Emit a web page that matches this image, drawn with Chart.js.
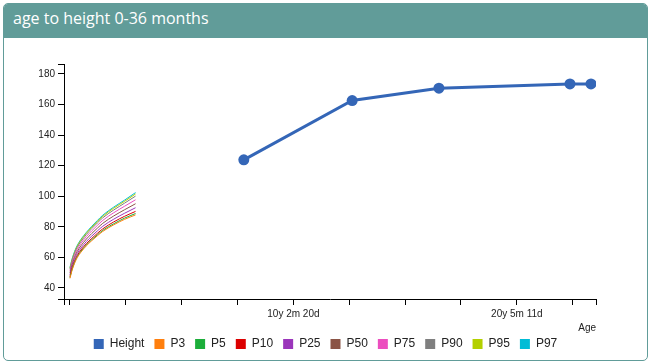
<!DOCTYPE html>
<html>
<head>
<meta charset="utf-8">
<title>age to height 0-36 months</title>
<script src="https://cdn.jsdelivr.net/npm/chart.js@4.4.1/dist/chart.umd.min.js"></script>
<style>
  body { margin: 0; background: #fff; }
  .panel {
    position: absolute; left: 3px; top: 3px; width: 643px; height: 356px;
    border: 1px solid #619c99; border-radius: 5px; overflow: hidden; background: #fff;
  }
  .panel-head {
    background: #619c99; color: #fff; height: 34px; line-height: 34px;
    padding-left: 9px; padding-top: 0; box-sizing: border-box;
    font: 16px "Open Sans", sans-serif;
  }
  .panel-head span { position: relative; top: 3px; }
  #chartWrap { position: absolute; left: 0; top: 0; width: 651px; height: 364px; }
</style>
</head>
<body>
<div class="panel"><div class="panel-head"><span>age to height 0-36 months</span></div></div>
<div id="chartWrap"><canvas id="heightChart"></canvas></div>
<script>
// ===== DATA =====
// child's measurements (age in days, height in cm)
const heightAgeDays = [2905, 4716, 6166, 8356, 8707];
const heightValues = [123.8, 162.6, 170.7, 173.5, 173.5];

// percentile curves 0-36 months
const percentileMonths = [0, 1, 2, 3, 4, 6, 9, 12, 15, 18, 24, 30, 36];
const p3  = [46.3, 51.0, 54.6, 57.5, 59.9, 63.4, 67.6, 71.0, 74.1, 77.0, 81.3, 84.9, 87.8];
const p5  = [46.8, 51.5, 55.1, 58.0, 60.4, 64.0, 68.1, 71.6, 74.7, 77.7, 82.0, 85.7, 88.7];
const p10 = [47.5, 52.2, 55.8, 58.7, 61.2, 64.8, 69.0, 72.5, 75.7, 78.7, 83.2, 86.9, 90.1];
const p25 = [48.6, 53.4, 57.0, 60.0, 62.5, 66.1, 70.4, 74.0, 77.3, 80.4, 85.0, 88.9, 92.5];
const p50 = [49.9, 54.7, 58.4, 61.4, 63.9, 67.6, 72.0, 75.7, 79.1, 82.3, 87.1, 91.2, 95.1];
const p75 = [51.2, 56.0, 59.8, 62.8, 65.3, 69.1, 73.6, 77.4, 80.9, 84.2, 89.2, 93.5, 97.7];
const p90 = [52.3, 57.2, 61.0, 64.1, 66.6, 70.4, 75.0, 78.9, 82.5, 85.9, 91.0, 95.5, 100.1];
const p95 = [53.0, 57.9, 61.7, 64.8, 67.4, 71.3, 75.9, 79.8, 83.5, 86.9, 92.2, 96.7, 101.5];
const p97 = [53.4, 58.4, 62.2, 65.3, 67.9, 71.8, 76.4, 80.4, 84.1, 87.6, 92.9, 97.5, 102.4];

const percentileNames = ["P3", "P5", "P10", "P25", "P50", "P75", "P90", "P95", "P97"];
const percentileSeries = [p3, p5, p10, p25, p50, p75, p90, p95, p97];
const percentileColors = ["#ff7f0e", "#1cae3a", "#dc0000", "#9b36bb", "#8b5446", "#ec4ebf", "#7f7f7f", "#b3d000", "#00bcd6"];

// axis ticks
const xTickDays = [0, 933.5, 1867, 2800.5, 3734, 4667.5, 5601, 6534.5, 7468, 8401.5];
const xTickLabels = ["", "", "", "", "10y 2m 20d", "", "", "", "20y 5m 11d", ""];
const yTicks = [40, 60, 80, 100, 120, 140, 160, 180];
const xRange = [-100, 8791];
const yRange = [32.8, 186.5];

// ===== BUILD DATASETS =====
const DAYS_PER_MONTH = 30.4375;

const datasets = [{
  label: "Height",
  data: heightAgeDays.map((d, i) => ({ x: d, y: heightValues[i] })),
  borderColor: "#3466b7",
  backgroundColor: "#3466b7",
  borderWidth: 3,
  pointRadius: 5.5,
  pointBorderWidth: 0,
  pointBackgroundColor: "#3466b7"
}];

percentileSeries.forEach((vals, i) => {
  datasets.push({
    label: percentileNames[i],
    data: percentileMonths.map((m, j) => ({ x: m * DAYS_PER_MONTH, y: vals[j] })),
    borderColor: percentileColors[i],
    backgroundColor: percentileColors[i],
    borderWidth: 1,
    pointRadius: 0,
    cubicInterpolationMode: "monotone"
  });
});

// axis style shared by both scales (d3-like, with outer ticks)
const axisFont = { family: "'Liberation Sans', Arial, sans-serif", size: 10 };
function axisGrid() {
  return { display: true, drawOnChartArea: false, drawTicks: true, tickLength: 6, color: "#000", lineWidth: 1 };
}

// keep the legend centred on the whole panel, not on the padded box
const centerLegend = {
  id: "centerLegend",
  afterLayout: chart => {
    chart.legend.left = 55;
    chart.legend.right = chart.width - 55;
  }
};

new Chart(document.getElementById("heightChart"), {
  type: "line",
  data: { datasets },
  plugins: [centerLegend],
  options: {
    responsive: true,
    maintainAspectRatio: false,
    animation: false,
    layout: { padding: { left: 24, right: 55, top: 64, bottom: 4 } },
    plugins: {
      tooltip: { enabled: false },
      legend: {
        position: "bottom",
        labels: {
          boxWidth: 10,
          boxHeight: 10,
          padding: 10,
          color: "#222",
          font: { family: "'Liberation Sans', Arial, sans-serif", size: 12 },
          generateLabels: chart =>
            Chart.defaults.plugins.legend.labels.generateLabels(chart).map(l => ({ ...l, lineWidth: 0 }))
        }
      }
    },
    scales: {
      x: {
        type: "linear",
        min: xRange[0],
        max: xRange[1],
        grid: axisGrid(),
        border: { display: true, color: "#000", width: 1 },
        afterBuildTicks: s => {
          s.ticks = [xRange[0], ...xTickDays, xRange[1]].map(v => ({ value: v }));
        },
        afterFit: s => { s.height = 29; },
        ticks: {
          autoSkip: false,
          maxRotation: 0,
          padding: 3,
          color: "#222",
          font: axisFont,
          callback: v => {
            const i = xTickDays.indexOf(v);
            return i >= 0 ? xTickLabels[i] : "";
          }
        },
        title: {
          display: true,
          text: "Age",
          align: "end",
          color: "#222",
          font: axisFont,
          padding: { top: 0, bottom: -6 }
        }
      },
      y: {
        min: yRange[0],
        max: yRange[1],
        grid: axisGrid(),
        border: { display: true, color: "#000", width: 1 },
        afterBuildTicks: s => {
          s.ticks = [yRange[0], ...yTicks, yRange[1]].map(v => ({ value: v }));
        },
        afterFit: s => { s.width = 40; },
        ticks: {
          autoSkip: false,
          padding: 3,
          color: "#222",
          font: axisFont,
          callback: v => (yTicks.includes(v) ? v : "")
        }
      }
    }
  }
});
</script>
</body>
</html>
